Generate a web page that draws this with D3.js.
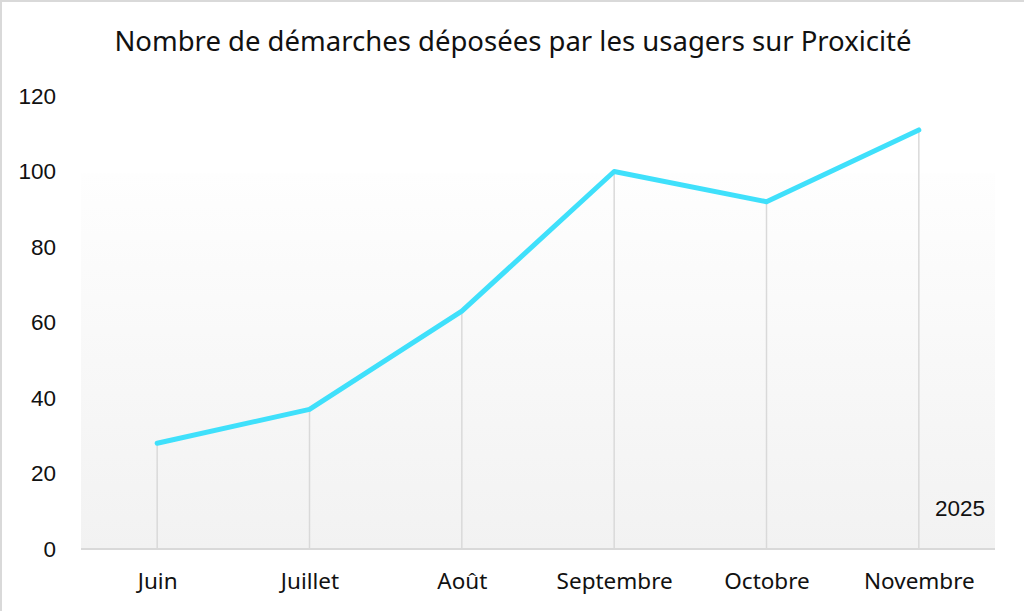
<!DOCTYPE html>
<html><head><meta charset="utf-8">
<script src="https://cdn.jsdelivr.net/npm/d3@7"></script>
<style>
html,body{margin:0;padding:0;background:#fff;}
svg{display:block;}
</style></head>
<body>
<svg id="chart" width="1024" height="611"></svg>
<script>
const title = "Nombre de démarches déposées par les usagers sur Proxicité";
const months = ["Juin","Juillet","Août","Septembre","Octobre","Novembre"];
const values = [28, 37, 63, 100, 92, 111];
const yTicks = [0, 20, 40, 60, 80, 100, 120];
const yearLabel = "2025";

const W = 1024, H = 611;
const margin = {left: 81, right: 29, top: 96, bottom: 62};
const svg = d3.select("#chart");

const x = d3.scalePoint().domain(months).range([margin.left, W - margin.right]).padding(0.5);
const y = d3.scaleLinear().domain([0, 120]).range([H - margin.bottom, margin.top]);

// outer frame lines (top & left)
svg.append("rect").attr("x",0).attr("y",0).attr("width",W).attr("height",2).attr("fill","#d9d9d9");
svg.append("rect").attr("x",0).attr("y",0).attr("width",2).attr("height",H).attr("fill","#d9d9d9");

// gradient plot background
const defs = svg.append("defs");
const grad = defs.append("linearGradient").attr("id","bg").attr("x1",0).attr("y1",0).attr("x2",0).attr("y2",1);
grad.append("stop").attr("offset","0%").attr("stop-color","#fefefe");
grad.append("stop").attr("offset","100%").attr("stop-color","#f2f2f2");
svg.append("rect")
  .attr("x", margin.left).attr("y", y(99.5))
  .attr("width", W - margin.right - margin.left)
  .attr("height", y(0) - y(99.5))
  .attr("fill","url(#bg)");

// title
svg.append("text").attr("x", 513).attr("y", 51)
  .attr("text-anchor","middle")
  .attr("font-family","'Noto Sans', sans-serif").attr("font-size", 27.5)
  .attr("fill","#111").text(title);

// y axis labels
const yAxis = d3.axisLeft(y).tickValues(yTicks).tickSize(0).tickPadding(0);
const gy = svg.append("g").attr("transform", `translate(${56},0)`).call(yAxis);
gy.select(".domain").remove();
gy.selectAll("text").attr("font-family","'Liberation Sans', Arial, sans-serif").attr("font-size", 22.5).attr("fill","#111");

// baseline
svg.append("line").attr("x1", margin.left).attr("x2", W - margin.right)
  .attr("y1", y(0)).attr("y2", y(0)).attr("stroke","#d9d9d9").attr("stroke-width",2);

// drop lines
svg.append("g").selectAll("line").data(values).join("line")
  .attr("x1",(d,i)=>x(months[i])).attr("x2",(d,i)=>x(months[i]))
  .attr("y1", d=>y(d)).attr("y2", y(0))
  .attr("stroke","#d9d9d9").attr("stroke-width",1.5);

// x axis labels
const xAxis = d3.axisBottom(x).tickSize(0).tickPadding(0);
const gx = svg.append("g").attr("transform", `translate(0,${y(0)+40})`).call(xAxis);
gx.select(".domain").remove();
gx.selectAll("text").attr("dy", 0).attr("font-family","'Noto Sans', sans-serif").attr("font-size", 22.5).attr("fill","#111");

// line
const line = d3.line().x((d,i)=>x(months[i])).y(d=>y(d));
svg.append("path").datum(values).attr("d", line)
  .attr("fill","none").attr("stroke","#3fe0fb").attr("stroke-width",5)
  .attr("stroke-linejoin","round").attr("stroke-linecap","round");

// year label
svg.append("text").attr("x", 985).attr("y", 516).attr("text-anchor","end")
  .attr("font-family","'Liberation Sans', Arial, sans-serif").attr("font-size", 22.5)
  .attr("fill","#111").text(yearLabel);
</script>
</body></html>
